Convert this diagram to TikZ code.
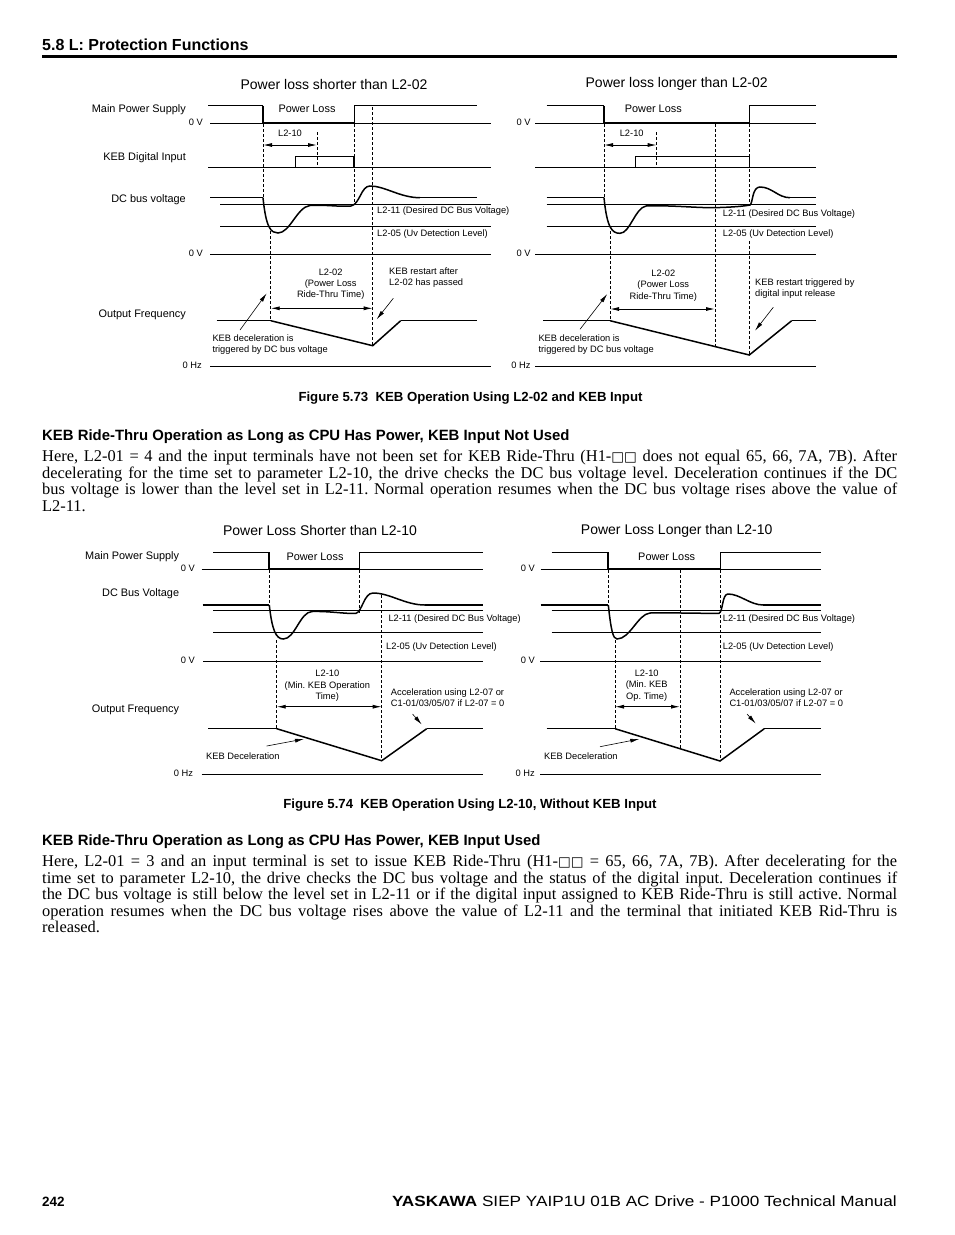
\documentclass[tikz,border=0pt]{standalone}
\usepackage{fontspec}
\setmainfont{Liberation Serif}
\setsansfont{Liberation Sans}
\newfontfamily\symfont{DejaVu Sans}
\usetikzlibrary{arrows.meta}
\newcommand{\sqbox}{{\symfont\fontsize{13.5}{13.5}\selectfont □□}}
\begin{document}
\frenchspacing
\begin{tikzpicture}[x=1pt,y=-1pt,
  lab/.style={inner sep=0pt, font=\sffamily\fontsize{10.9}{12}\selectfont},
  sm/.style={inner sep=0pt, font=\sffamily\fontsize{9.3}{11.4}\selectfont, align=center},
  smL/.style={inner sep=0pt, font=\sffamily\fontsize{9.3}{11}\selectfont, align=left},
  ttl/.style={inner sep=0pt, font=\sffamily\fontsize{14}{16}\selectfont},
  figcap/.style={inner sep=0pt, anchor=base, font=\sffamily\bfseries\fontsize{13.2}{14}\selectfont},
  sechead/.style={inner sep=0pt, anchor=base west, font=\sffamily\bfseries\fontsize{14.9}{16}\selectfont},
  bodyline/.style={inner sep=0pt, anchor=base west, font=\rmfamily\frenchspacing\fontsize{16.4}{17}\selectfont},
  sig/.style={line width=0.9pt},
  thk/.style={line width=2pt},
  bus/.style={line width=1.5pt},
  dsh/.style={line width=0.8pt, dash pattern=on 3pt off 2pt},
  dimarrow/.style={line width=0.9pt, {Latex[length=9pt,width=4pt]}-{Latex[length=9pt,width=4pt]}},
  ptr/.style={line width=0.6pt, -{Latex[length=9pt,width=4pt]}},
]
\fill[white] (0,0) rectangle (954,1235);
\useasboundingbox (0,0) rectangle (954,1235);

% ---------- page header ----------
\node[inner sep=0pt, anchor=base west, font=\sffamily\bfseries\fontsize{16}{18}\selectfont] (sec) at (42,50) {5.8 L: Protection Functions};
\draw[line width=2.6pt] (42,56.5) -- (897,56.5);

% ================= FIGURE 5.73 =================
\node[ttl] (ta) at (334,84) {Power loss shorter than L2-02};
\node[ttl] (tb) at (676.7,84) {Power loss longer than L2-02};

\node[lab, anchor=mid east] (lmps) at (186,110.5) {Main Power Supply};
\node[lab, anchor=mid east] (lkeb) at (186,158.5) {KEB Digital Input};
\node[lab, anchor=mid east] (ldc) at (186,200) {DC bus voltage};
\node[lab, anchor=mid east] (lof) at (186,315) {Output Frequency};

% --- left panel ---
\node[sm, anchor=mid east] (a0v1) at (203,123.3) {0 V};
\node[sm, anchor=mid east] (a0v2) at (203,254) {0 V};
\node[sm, anchor=mid east] (a0hz) at (202,366) {0 Hz};
\draw[sig] (210,123.3) -- (491,123.3);
\draw[sig] (208,167.3) -- (491,167.3);
\draw[sig] (220,204.3) -- (491,204.3);
\draw[sig] (220,226) -- (491,226);
\draw[sig] (210,254) -- (491,254);
\draw[sig] (210,366) -- (491,366);

\draw[sig] (208,105.7) -- (263,105.7);
\draw[thk] (263,105.7) -- (263,123.3) -- (354,123.3);
\draw[sig] (354,123.3) -- (354,105.7) -- (477,105.7);
\node[lab] (apl) at (307,109) {Power Loss};

\draw[dimarrow] (263,145) -- (317,145);
\node[sm] (al210) at (290,133.5) {L2-10};

\draw[sig] (295,167.3) -- (295,156.7) -- (354,156.7);
\draw[line width=1.3pt] (354,156.7) -- (354,167.3);

\draw[sig] (210,197.7) -- (263,197.7);
\draw[bus] (263,197.7) .. controls (266,228) and (271,233) .. (278,233)
  .. controls (290,233) and (297,207) .. (310,205.5)
  .. controls (325,204.5) and (340,207) .. (351,206)
  .. controls (360,204) and (361,186) .. (370,186)
  .. controls (385,186) and (400,197.7) .. (420,197.7);
\draw[sig] (420,197.7) -- (477,197.7);
\node[sm, anchor=mid west] (al211) at (377,211.5) {L2-11 (Desired DC Bus Voltage)};
\node[sm, anchor=mid west] (al205) at (377,234) {L2-05 (Uv Detection Level)};

\draw[sig] (216.7,320.7) -- (270.7,320.7);
\draw[bus] (270.7,320.7) -- (372.7,345.7) -- (400.7,320.7);
\draw[sig] (400.7,320.7) -- (476.7,320.7);
\draw[dimarrow] (270.7,308.3) -- (372.7,308.3);
\node[sm] (al202) at (330.7,284.3) {L2-02\\(Power Loss\\Ride-Thru Time)};
\node[smL, anchor=west] (arst) at (389,278) {KEB restart after\\L2-02 has passed};
\coordinate (arstA) at (393.3,298.3);
\coordinate (arstB) at (376.7,319.3);
\draw[ptr] (arstA) -- (arstB);
\node[smL, anchor=west] (adec) at (212.3,344.5) {KEB deceleration is\\triggered by DC bus voltage};
\coordinate (adecA) at (240,330);
\coordinate (adecB) at (266.7,293.3);
\draw[ptr] (adecA) -- (adecB);

\draw[dsh] (263,124) -- (263,198);
\draw[dsh] (270.7,231) -- (270.7,320.7);
\draw[dsh] (317,132) -- (317,167.3);
\draw[dsh] (354,124) -- (354,204);
\draw[dsh] (372.7,107) -- (372.7,345.7);

% --- right panel ---
\node[sm, anchor=mid east] (b0v1) at (530.7,123.3) {0 V};
\node[sm, anchor=mid east] (b0v2) at (530.7,254) {0 V};
\node[sm, anchor=mid east] (b0hz) at (530.7,366) {0 Hz};
\draw[sig] (535,123.3) -- (816,123.3);
\draw[sig] (535,167.3) -- (816,167.3);
\draw[sig] (546.7,204.3) -- (816,204.3);
\draw[sig] (546.7,226) -- (816,226);
\draw[sig] (535,254) -- (816,254);
\draw[sig] (535,366) -- (816,366);

\draw[sig] (546.7,105.7) -- (604,105.7);
\draw[thk] (604,105.7) -- (604,123.3) -- (749.3,123.3);
\draw[sig] (749.3,123.3) -- (749.3,105.7) -- (816,105.7);
\node[lab] (bpl) at (653.3,109) {Power Loss};

\draw[dimarrow] (604,145) -- (656.7,145);
\node[sm] (bl210) at (631.7,133.5) {L2-10};

\draw[sig] (635,167.3) -- (635,156.7) -- (749.3,156.7);
\draw[line width=1.3pt] (749.3,156.7) -- (749.3,167.3);

\draw[sig] (546.7,197.7) -- (604,197.7);
\draw[bus] (604,197.7) .. controls (607,228) and (612,233.3) .. (620,233.3)
  .. controls (630,233.3) and (635,208) .. (646,206)
  .. controls (675,205) and (700,208.5) .. (720,207.5)
  .. controls (735,207) and (745,206) .. (750,205)
  .. controls (753,203) and (752,187) .. (760,187)
  .. controls (772,187) and (778,197.7) .. (790,197.7);
\draw[sig] (790,197.7) -- (816,197.7);
\node[sm, anchor=mid west] (bl211) at (722.7,214.5) {L2-11 (Desired DC Bus Voltage)};
\node[sm, anchor=mid west] (bl205) at (722.7,234) {L2-05 (Uv Detection Level)};

\draw[sig] (543.3,320.7) -- (610,320.7);
\draw[bus] (610,320.7) -- (749.3,355) -- (791.7,320.7);
\draw[sig] (791.7,320.7) -- (816,320.7);
\draw[dimarrow] (610,309) -- (715,309);
\node[sm] (bl202) at (663.3,285.5) {L2-02\\(Power Loss\\Ride-Thru Time)};
\node[smL, anchor=west] (brst) at (755,289) {KEB restart triggered by\\digital input release};
\coordinate (brstA) at (773.3,307.3);
\coordinate (brstB) at (755,330.7);
\draw[ptr] (brstA) -- (brstB);
\node[smL, anchor=west] (bdec) at (538.3,344.5) {KEB deceleration is\\triggered by DC bus voltage};
\coordinate (bdecA) at (580,329.3);
\coordinate (bdecB) at (607.3,294);
\draw[ptr] (bdecA) -- (bdecB);

\draw[dsh] (604,124) -- (604,198);
\draw[dsh] (610,231) -- (610,320.7);
\draw[dsh] (656.7,132) -- (656.7,167.3);
\draw[dsh] (715,124) -- (715,346.6);
\draw[dsh] (749.3,124) -- (749.3,205);
\draw[dsh] (749.3,241) -- (749.3,355);

\node[figcap] (cap73) at (470.5,401.7) {Figure 5.73\ \ KEB Operation Using L2-02 and KEB Input};

% ---------- text block 1 ----------
\node[sechead] (h1) at (42,440) {KEB Ride-Thru Operation as Long as CPU Has Power, KEB Input Not Used};
\node[bodyline] (p1a) at (42,461.5) {\makebox[855pt][s]{Here, L2-01 = 4 and the input terminals have not been set for KEB Ride-Thru (H1-\sqbox\ does not equal 65, 66, 7A, 7B). After}};
\node[bodyline] (p1b) at (42,478.1) {\makebox[855pt][s]{decelerating for the time set to parameter L2-10, the drive checks the DC bus voltage level. Deceleration continues if the DC}};
\node[bodyline] (p1c) at (42,494.7) {\makebox[855pt][s]{bus voltage is lower than the level set in L2-11. Normal operation resumes when the DC bus voltage rises above the value of}};
\node[bodyline] (p1d) at (42,511.3) {L2-11.};

% ================= FIGURE 5.74 =================
\node[ttl] (tc) at (320,530.5) {Power Loss Shorter than L2-10};
\node[ttl] (td) at (676.7,530.5) {Power Loss Longer than L2-10};

\node[lab, anchor=mid east] (cmps) at (179.3,557.3) {Main Power Supply};
\node[lab, anchor=mid east] (cdc) at (179.3,594) {DC Bus Voltage};
\node[lab, anchor=mid east] (cof) at (179.3,710) {Output Frequency};

% --- left panel ---
\node[sm, anchor=mid east] (c0v1) at (195,569.3) {0 V};
\node[sm, anchor=mid east] (c0v2) at (195,661) {0 V};
\node[sm, anchor=mid east] (c0hz) at (193.3,774) {0 Hz};
\draw[sig] (201.7,569.3) -- (483.3,569.3);
\draw[sig] (213.3,610) -- (483.3,610);
\draw[sig] (213.3,632.7) -- (483.3,632.7);
\draw[sig] (203.3,661) -- (483.3,661);
\draw[sig] (201.7,774) -- (483.3,774);

\draw[sig] (213.3,552.3) -- (269.3,552.3);
\draw[thk] (269.3,552.3) -- (269.3,569.3) -- (359.3,569.3);
\draw[sig] (359.3,569.3) -- (359.3,552.3) -- (483.3,552.3);
\node[lab] (cpl) at (315,556.7) {Power Loss};

\draw[thk] (202.7,605) -- (269.3,605);
\draw[bus] (269.3,605) .. controls (272,630) and (276,639) .. (283.3,639)
  .. controls (295,639) and (300,612) .. (312,611.5)
  .. controls (330,611) and (345,614) .. (356,613.3)
  .. controls (362,612) and (364,593) .. (373,593)
  .. controls (390,593) and (405,605) .. (425,605);
\draw[thk] (425,605) -- (483.3,605);
\node[sm, anchor=mid west] (cl211) at (388.3,619) {L2-11 (Desired DC Bus Voltage)};
\node[sm, anchor=mid west] (cl205) at (386,646.7) {L2-05 (Uv Detection Level)};

\draw[sig] (208.3,728.7) -- (276.7,728.7);
\draw[bus] (276.7,728.7) -- (381.7,760.7) -- (426.7,728.7);
\draw[sig] (426.7,728.7) -- (483.3,728.7);
\draw[dimarrow] (276.7,706.7) -- (381.7,706.7);
\node[sm] (cl210) at (327.3,686) {L2-10\\(Min. KEB Operation\\Time)};
\node[smL, anchor=west] (cacc) at (390.7,698) {Acceleration using L2-07 or\\C1-01/03/05/07 if L2-07 = 0};
\coordinate (caccA) at (412.5,714);
\coordinate (caccB) at (421.7,724.5);
\draw[ptr] (caccA) -- (caccB);
\node[smL, anchor=mid west] (cdec) at (206,757.5) {KEB Deceleration};
\coordinate (cdecA) at (266.7,746);
\coordinate (cdecB) at (304,739);
\draw[ptr] (cdecA) -- (cdecB);

\draw[dsh] (269.3,570) -- (269.3,605);
\draw[dsh] (276.7,640) -- (276.7,728.7);
\draw[dsh] (359.3,570) -- (359.3,613);
\draw[dsh] (381.7,595) -- (381.7,760.7);

% --- right panel ---
\node[sm, anchor=mid east] (d0v1) at (535,569.3) {0 V};
\node[sm, anchor=mid east] (d0v2) at (535,661) {0 V};
\node[sm, anchor=mid east] (d0hz) at (535,774) {0 Hz};
\draw[sig] (540.7,569.3) -- (820.7,569.3);
\draw[sig] (551.7,610) -- (820.7,610);
\draw[sig] (551.7,632.7) -- (820.7,632.7);
\draw[sig] (540,661) -- (820.7,661);
\draw[sig] (540,774) -- (820.7,774);

\draw[sig] (551.7,552.3) -- (608.3,552.3);
\draw[thk] (608.3,552.3) -- (608.3,569.3) -- (720.7,569.3);
\draw[sig] (720.7,569.3) -- (720.7,552.3) -- (820.7,552.3);
\node[lab] (dpl) at (666.7,556.7) {Power Loss};

\draw[thk] (540.7,605) -- (608.3,605);
\draw[bus] (608.3,605) .. controls (611,630) and (613,639) .. (617,639)
  .. controls (630,639) and (638,614) .. (650,613)
  .. controls (670,612.5) and (700,613.5) .. (719,613.3)
  .. controls (723,612) and (722,594) .. (728,594)
  .. controls (740,594) and (750,605) .. (763.3,605);
\draw[thk] (763.3,605) -- (820.7,605);
\node[sm, anchor=mid west] (dl211) at (722.7,619) {L2-11 (Desired DC Bus Voltage)};
\node[sm, anchor=mid west] (dl205) at (722.7,646.7) {L2-05 (Uv Detection Level)};

\draw[sig] (546.7,728.7) -- (615,728.7);
\draw[bus] (615,728.7) -- (720,761) -- (764.3,728.7);
\draw[sig] (764.3,728.7) -- (820.7,728.7);
\draw[dimarrow] (615,706.7) -- (680,706.7);
\node[sm] (dl210) at (646.7,685.7) {L2-10\\(Min. KEB\\Op. Time)};
\node[smL, anchor=west] (dacc) at (729.3,698) {Acceleration using L2-07 or\\C1-01/03/05/07 if L2-07 = 0};
\coordinate (daccA) at (747,714);
\coordinate (daccB) at (755.7,723.5);
\draw[ptr] (daccA) -- (daccB);
\node[smL, anchor=mid west] (ddec) at (544,757.5) {KEB Deceleration};
\coordinate (ddecA) at (600,746.7);
\coordinate (ddecB) at (639.3,739);
\draw[ptr] (ddecA) -- (ddecB);

\draw[dsh] (608.3,570) -- (608.3,605);
\draw[dsh] (615,640) -- (615,728.7);
\draw[dsh] (680.7,570) -- (680.7,748.8);
\draw[dsh] (720.7,570) -- (720.7,761);

\node[figcap] (cap74) at (470,808.7) {Figure 5.74\ \ KEB Operation Using L2-10, Without KEB Input};

% ---------- text block 2 ----------
\node[sechead] (h2) at (42,845.5) {KEB Ride-Thru Operation as Long as CPU Has Power, KEB Input Used};
\node[bodyline] (p2a) at (42,866.5) {\makebox[855pt][s]{Here, L2-01 = 3 and an input terminal is set to issue KEB Ride-Thru (H1-\sqbox\ = 65, 66, 7A, 7B). After decelerating for the}};
\node[bodyline] (p2b) at (42,883.1) {\makebox[855pt][s]{time set to parameter L2-10, the drive checks the DC bus voltage and the status of the digital input. Deceleration continues if}};
\node[bodyline] (p2c) at (42,899.7) {\makebox[855pt][s]{the DC bus voltage is still below the level set in L2-11 or if the digital input assigned to KEB Ride-Thru is still active. Normal}};
\node[bodyline] (p2d) at (42,916.3) {\makebox[855pt][s]{operation resumes when the DC bus voltage rises above the value of L2-11 and the terminal that initiated KEB Rid-Thru is}};
\node[bodyline] (p2e) at (42,932.9) {released.};

% ---------- footer ----------
\node[inner sep=0pt, anchor=base west, font=\sffamily\bfseries\fontsize{13.5}{14}\selectfont] (pg) at (42,1206) {242};
\node[inner sep=0pt, anchor=base east, font=\sffamily\fontsize{14.8}{16}\selectfont] (foot) at (897,1206) {\scalebox{1.16}[1]{\textbf{YASKAWA} SIEP YAIP1U 01B AC Drive - P1000 Technical Manual}};
\end{tikzpicture}
\end{document}
